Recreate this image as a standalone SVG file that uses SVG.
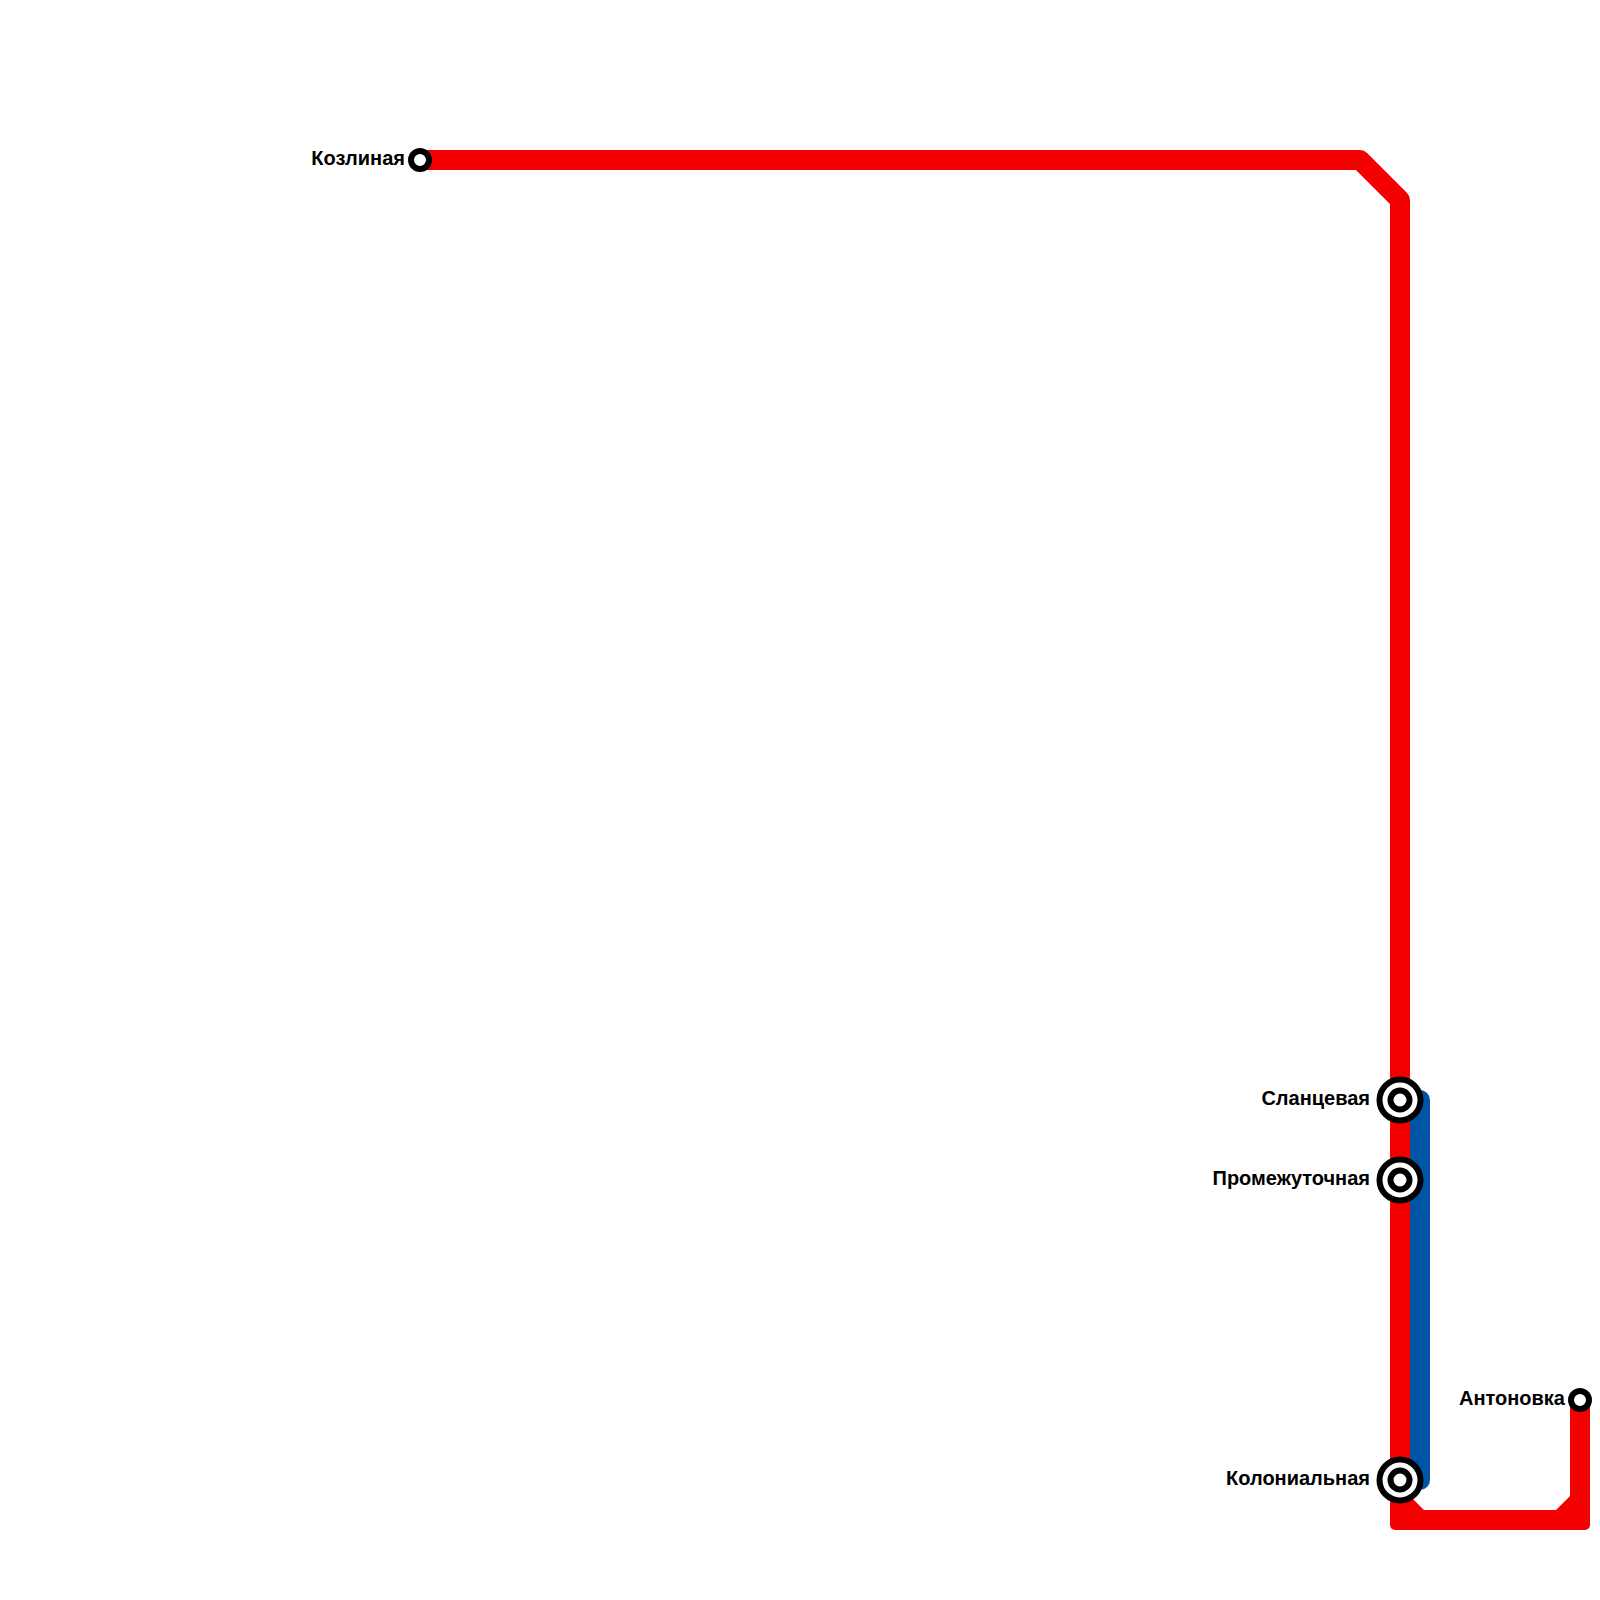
<svg xmlns="http://www.w3.org/2000/svg" width="1600" height="1600" viewBox="0 0 1600 1600">
<style>
.red{fill:none;stroke:#f30000;stroke-width:20;stroke-linejoin:round;stroke-linecap:butt}
.blue{fill:none;stroke:#0054a6;stroke-width:20;stroke-linecap:round}
.ring{fill:#fff;stroke:#000;stroke-width:6}
text{font-family:"Liberation Sans",Arial,sans-serif;font-weight:700;font-size:20px;fill:#000;text-anchor:end}
</style>
<rect width="1600" height="1600" fill="#fff"/>
<g id="connectors">
<path class="blue" d="M1420 1100V1480"/>
<path class="red" d="M420 160H1360L1400 200V1480"/>
<path d="M1390 1480H1410V1496L1424 1510H1556L1570 1496V1400H1590V1525A5 5 0 0 1 1585 1530H1395A5 5 0 0 1 1390 1525Z" fill="#f30000"/>
</g>
<g id="station-kozlinaya"><circle class="ring" cx="420" cy="160" r="9"/><text x="405" y="165">Козлиная</text></g>
<g id="station-slantsevaya"><circle class="ring" cx="1400" cy="1100" r="20.5"/><circle class="ring" cx="1400" cy="1100" r="9.5"/><text x="1370" y="1105">Сланцевая</text></g>
<g id="station-promezhutochnaya"><circle class="ring" cx="1400" cy="1180" r="20.5"/><circle class="ring" cx="1400" cy="1180" r="9.5"/><text x="1370" y="1185">Промежуточная</text></g>
<g id="station-kolonialnaya"><circle class="ring" cx="1400" cy="1480" r="20.5"/><circle class="ring" cx="1400" cy="1480" r="9.5"/><text x="1370" y="1485">Колониальная</text></g>
<g id="station-antonovka"><circle class="ring" cx="1580" cy="1400" r="9"/><text x="1565" y="1405">Антоновка</text></g>
</svg>
